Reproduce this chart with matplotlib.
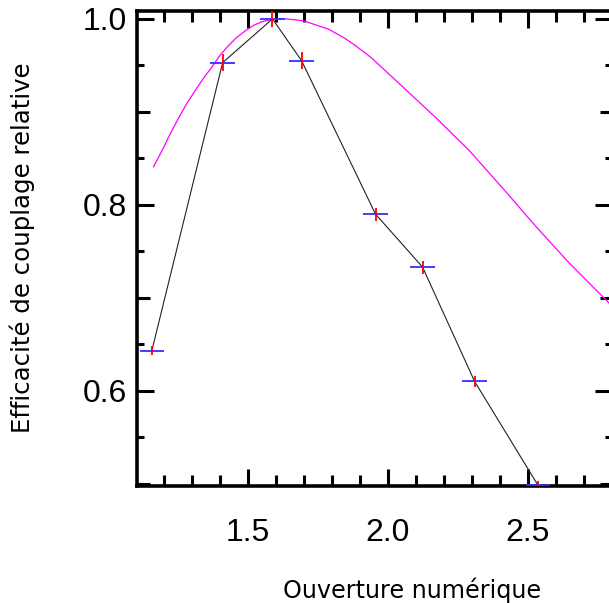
import matplotlib
matplotlib.use("Agg")
import matplotlib.pyplot as plt
from matplotlib.ticker import MultipleLocator, FixedLocator, NullFormatter, FixedFormatter

# measured points
na = [1.158, 1.411, 1.589, 1.693, 1.957, 2.125, 2.311, 2.536]
eff = [0.643, 0.953, 1.000, 0.955, 0.790, 0.733, 0.610, 0.499]
na_err = [0.044, 0.045, 0.045, 0.045, 0.045, 0.045, 0.045, 0.043]
eff_err = [0.005, 0.009, 0.009, 0.009, 0.007, 0.007, 0.006, 0.004]

# model curve
curve_x = [1.164, 1.194, 1.223, 1.253, 1.283, 1.313, 1.342, 1.372, 1.402, 1.431,
           1.461, 1.491, 1.521, 1.551, 1.580, 1.610, 1.640, 1.670, 1.699, 1.729,
           1.789, 1.848, 1.882, 1.939, 2.054, 2.175, 2.293, 2.411, 2.532, 2.650,
           2.789, 2.80]
curve_y = [0.841, 0.858, 0.876, 0.893, 0.909, 0.923, 0.936, 0.948, 0.961, 0.971,
           0.980, 0.987, 0.993, 0.997, 0.999, 1.000, 1.000, 0.999, 0.998, 0.995,
           0.989, 0.979, 0.972, 0.959, 0.927, 0.893, 0.858, 0.818, 0.776, 0.737,
           0.695, 0.691]

xticks = [1.5, 2.0, 2.5]
yticks = [0.6, 0.8, 1.0]

W, H = 609, 603
fig = plt.figure(figsize=(W / 100, H / 100), dpi=100)
left, right, top, bottom = 137, 611.5, 11, 486
ax = fig.add_axes([left / W, 1 - bottom / H, (right - left) / W, (bottom - top) / H])

ax.plot(curve_x, curve_y, color="#ff00ff", lw=0.9, zorder=2)
ax.plot(na, eff, color="#222222", lw=0.8, zorder=3)
ax.errorbar(na, eff, xerr=na_err, fmt="none", ecolor="#3030ff", elinewidth=1.3, capsize=0, zorder=4)
ax.errorbar(na, eff, yerr=eff_err, fmt="none", ecolor="#ff0000", elinewidth=1.3, capsize=0, zorder=5)

ax.set_xlim(1.105, 2.8)
ax.set_ylim(0.4975, 1.0085)

for s in ax.spines.values():
    s.set_linewidth(2.6)

ax.xaxis.set_major_locator(FixedLocator(xticks))
ax.xaxis.set_major_formatter(FixedFormatter([f"{v:.1f}" for v in xticks]))
ax.xaxis.set_minor_locator(MultipleLocator(0.1))
ax.yaxis.set_major_locator(FixedLocator(yticks))
ax.yaxis.set_major_formatter(FixedFormatter([f"{v:.1f}" for v in yticks]))
ax.yaxis.set_minor_locator(MultipleLocator(0.05))

ax.tick_params(which="major", direction="in", top=True, right=True, length=12.5, width=2.2, pad=7)
ax.tick_params(which="minor", direction="in", top=True, right=True, length=8, width=2.2)
ax.tick_params(axis="y", which="minor", length=5)
ax.tick_params(axis="x", which="major", pad=23)
for t in ax.get_xticklabels() + ax.get_yticklabels():
    t.set_fontfamily(["Liberation Sans", "DejaVu Sans"])
    t.set_fontsize(23)

# medium y ticks at 0.1 steps
sec = ax.secondary_yaxis("left")
sec.set_yticks([0.5, 0.7, 0.9])
sec.yaxis.set_major_formatter(NullFormatter())
sec.tick_params(direction="in", length=9, width=2.2)
sec.spines["left"].set_visible(False)
sec2 = ax.secondary_yaxis("right")
sec2.set_yticks([0.5, 0.7, 0.9])
sec2.yaxis.set_major_formatter(NullFormatter())
sec2.tick_params(direction="in", length=9, width=2.2)
sec2.spines["right"].set_visible(False)

fig.text(412 / W, 1 - 590 / H, "Ouverture numérique", ha="center", va="center",
         family="DejaVu Sans", size=17.2)
fig.text(22 / W, 1 - 248 / H, "Efficacité de couplage relative", ha="center", va="center",
         rotation=90, family="DejaVu Sans", size=17.6)

fig.savefig("out.png", dpi=100)
